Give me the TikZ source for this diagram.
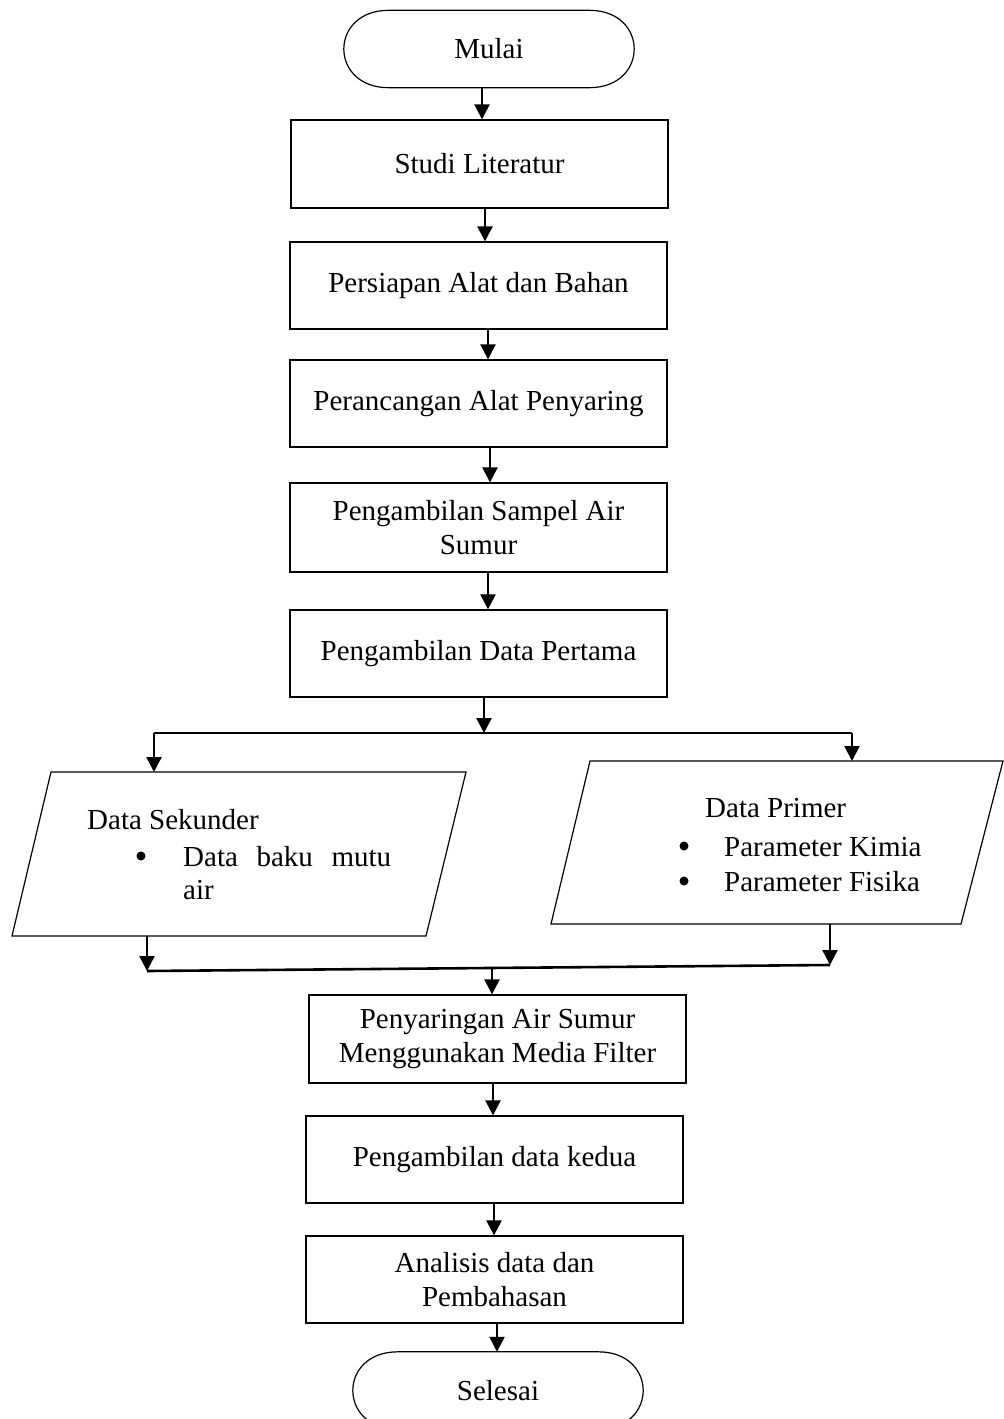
\documentclass[tikz,border=0pt]{standalone}
\usepackage{fontspec}
\setmainfont{Liberation Serif}
\usetikzlibrary{arrows.meta}
\begin{document}
\begin{tikzpicture}[x=1pt,y=-1pt,
  tf/.style={font=\fontsize{29}{34}\selectfont},
  box/.style={tf,draw,line width=1.3pt,minimum width=377pt,minimum height=88pt,align=center,inner sep=0pt},
  term/.style={tf,minimum width=290pt,minimum height=77pt,inner sep=0pt},
  shp/.style={draw,line width=1.2pt},
  arr/.style={line width=2.4pt,-{Triangle[length=15pt,width=15pt]}},
  ln/.style={line width=2.6pt},
  txt/.style={tf,inner sep=0pt},
  dot/.style={circle,fill,minimum size=9pt,inner sep=0pt}
]
\clip (0,0) rectangle (1004,1419);
\fill[white] (0,0) rectangle (1004,1419);

% main column
\node[term] (mulai) at (489,49) {Mulai};
\draw[shp] ([xshift=45pt]mulai.north west) -- ([xshift=-45pt]mulai.north east)
  .. controls ([xshift=15pt]mulai.north east) and ([xshift=15pt]mulai.south east) .. ([xshift=-45pt]mulai.south east)
  -- ([xshift=45pt]mulai.south west)
  .. controls ([xshift=-15pt]mulai.south west) and ([xshift=-15pt]mulai.north west) .. cycle;
\node[box] (studi) at (479.5,164) {Studi Literatur};
\node[box,minimum height=87pt] (persiapan) at (478.5,285.5) {Persiapan Alat dan Bahan};
\node[box,minimum height=87pt] (rancang) at (478.5,403.5) {Perancangan Alat Penyaring};
\node[box,minimum height=89pt] (sampel) at (478.5,527.5) {Pengambilan Sampel Air\\Sumur};
\node[box,minimum height=87pt] (pertama) at (478.5,653.5) {Pengambilan Data Pertama};

% parallelograms
\draw[shp] (51,772) -- (466,772) -- (426,936) -- (12,936) -- cycle;
\draw[shp] (590,761) -- (1003,761) -- (961,924) -- (551,924) -- cycle;
\coordinate (sekIn) at (154,772);
\coordinate (sekOut) at (147,936);
\coordinate (priIn) at (852,761);
\coordinate (priOut) at (830,924);

\node[txt,anchor=west] (sekT) at (87,820) {Data Sekunder};
\node[dot] (sekB) at (141,856) {};
\node[txt,anchor=west] (sekL1) at (183,857) {\makebox[208pt][s]{Data\hfill baku\hfill mutu}};
\node[txt,anchor=west] (sekL2) at (183,890) {air};

\node[txt,anchor=west] (priT) at (705,808) {Data Primer};
\node[dot] (priB1) at (684,846) {};
\node[txt,anchor=west] (priL1) at (724,847) {Parameter Kimia};
\node[dot] (priB2) at (684,881) {};
\node[txt,anchor=west] (priL2) at (724,882) {Parameter Fisika};

\node[box,minimum height=88pt] (saring) at (497.5,1039) {Penyaringan Air Sumur\\Menggunakan Media Filter};
\node[box,minimum height=87pt] (kedua) at (494.5,1159.5) {Pengambilan data kedua};
\node[box,minimum height=87pt] (analisis) at (494.5,1279.5) {Analisis data dan\\Pembahasan};
\node[term] (selesai) at (498,1390.5) {Selesai};
\draw[shp] ([xshift=45pt]selesai.north west) -- ([xshift=-45pt]selesai.north east)
  .. controls ([xshift=15pt]selesai.north east) and ([xshift=15pt]selesai.south east) .. ([xshift=-45pt]selesai.south east)
  -- ([xshift=45pt]selesai.south west)
  .. controls ([xshift=-15pt]selesai.south west) and ([xshift=-15pt]selesai.north west) .. cycle;

% connectors
\draw[arr] (482,0 |- mulai.south) -- (482,0 |- studi.north);
\draw[arr] (485,0 |- studi.south) -- (485,0 |- persiapan.north);
\draw[arr] (488,0 |- persiapan.south) -- (488,0 |- rancang.north);
\draw[arr] (490,0 |- rancang.south) -- (490,0 |- sampel.north);
\draw[arr] (488,0 |- sampel.south) -- (488,0 |- pertama.north);

\coordinate (split) at (484,733);
\coordinate (splitL) at (154,733);
\coordinate (splitR) at (852,733);
\draw[arr] (484,0 |- pertama.south) -- (split);
\draw[ln] (splitL) -- (splitR);
\draw[arr] (splitL) -- (sekIn);
\draw[arr] (splitR) -- (priIn);

\coordinate (mergeL) at (147,971);
\coordinate (mergeR) at (830,965);
\coordinate (mergeM) at (492,968);
\draw[arr] (sekOut) -- (mergeL);
\draw[arr] (priOut) -- (mergeR);
\draw[ln] (mergeL) -- (mergeR);
\draw[arr] (mergeM) -- (492,0 |- saring.north);

\draw[arr] (493,0 |- saring.south) -- (493,0 |- kedua.north);
\draw[arr] (494,0 |- kedua.south) -- (494,0 |- analisis.north);
\draw[arr] (497,0 |- analisis.south) -- (497,0 |- selesai.north);
\end{tikzpicture}
\end{document}
